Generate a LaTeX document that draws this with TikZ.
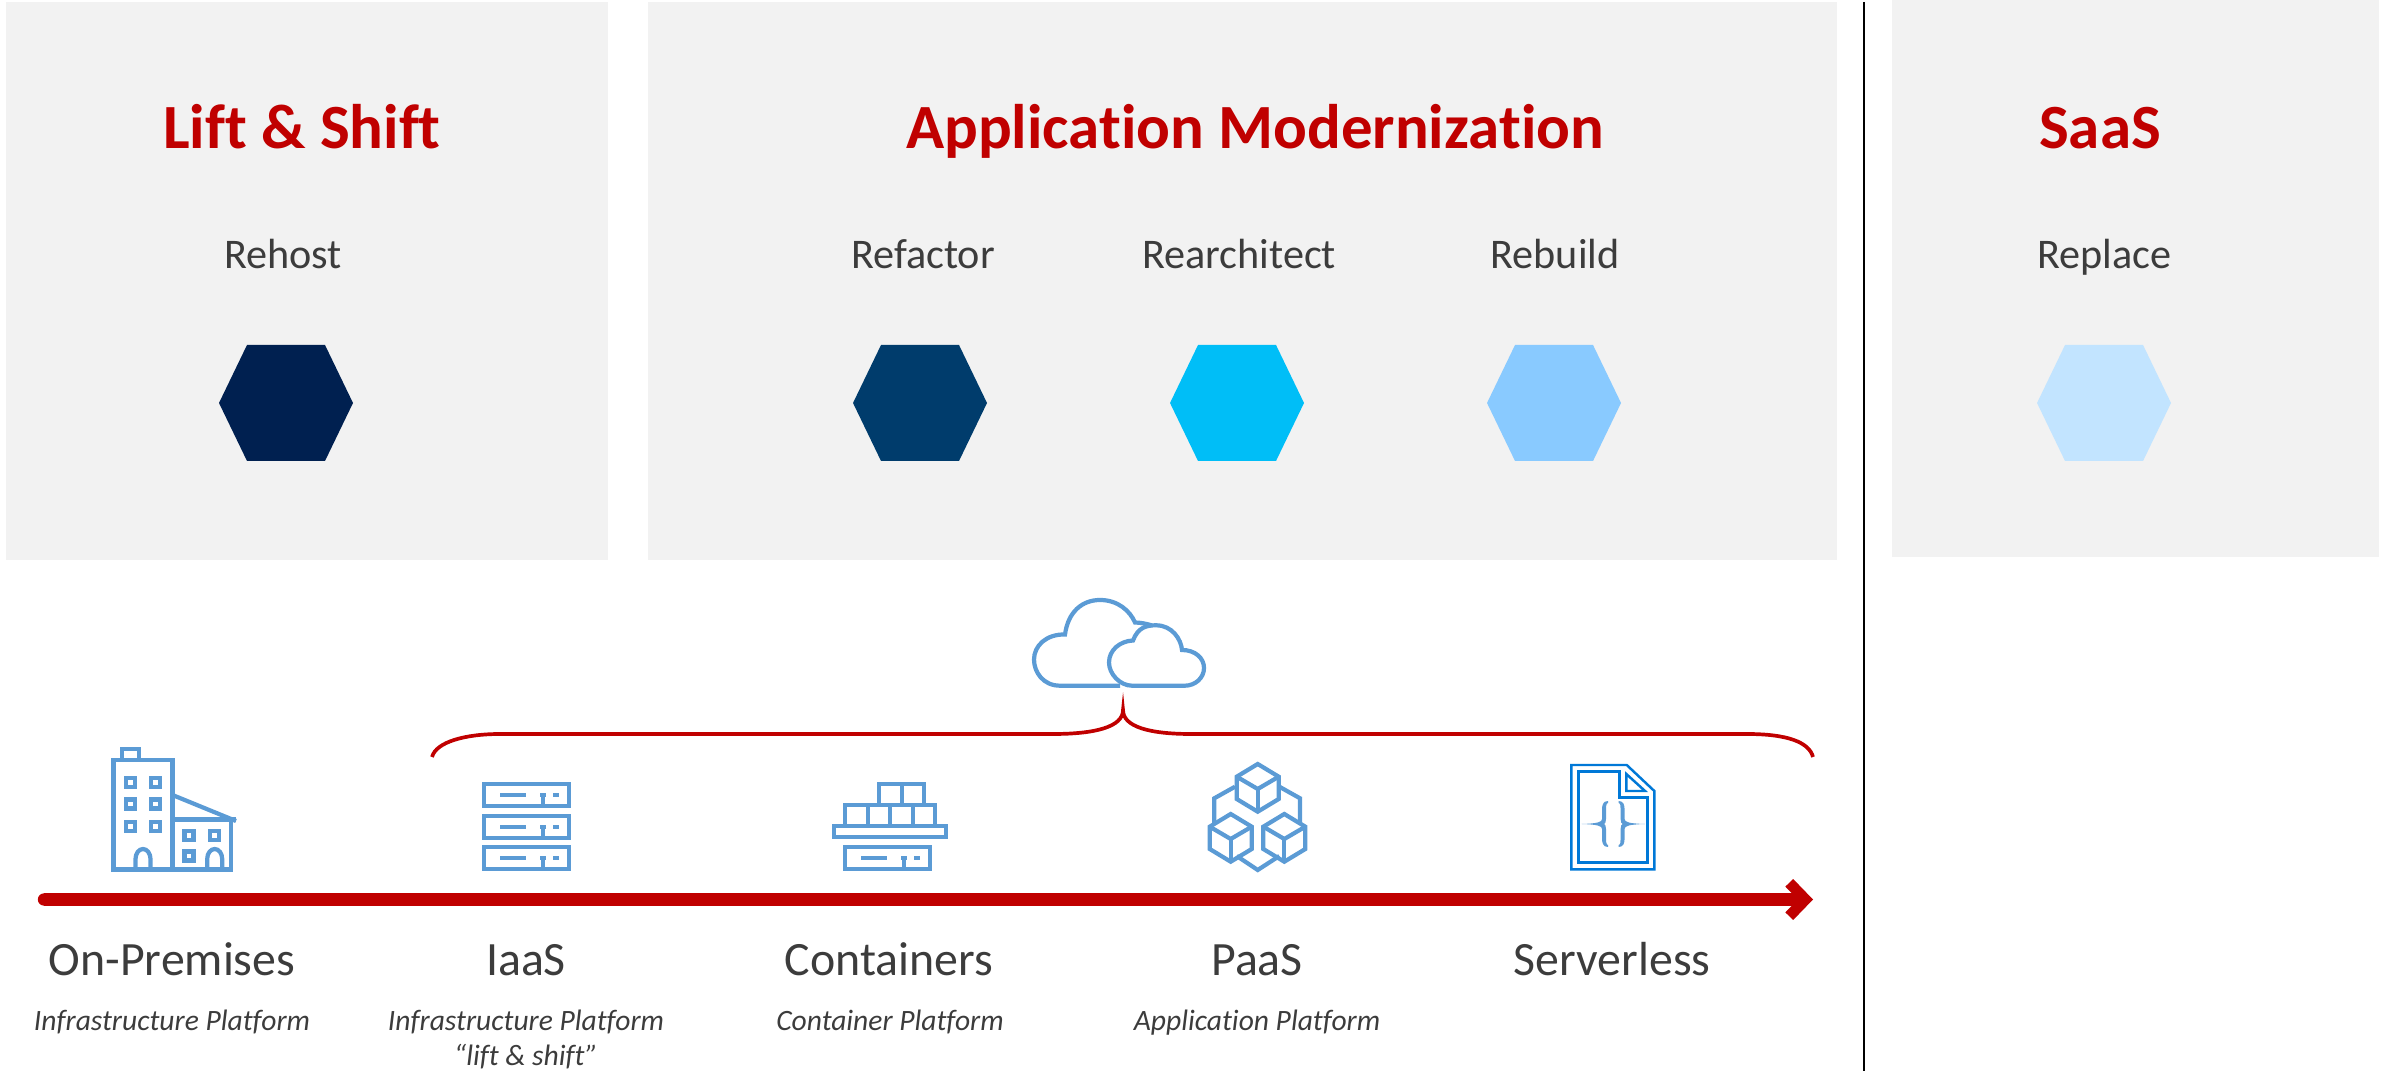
\documentclass[tikz,border=0pt]{standalone}
\usepackage{fontspec}
\setmainfont{Carlito}[RawFeature={-liga}]
\usetikzlibrary{arrows.meta}
\tikzset{
	panel/.style={fill={rgb,255:red,242;green,242;blue,242}},
	heading/.style={anchor=base,font=\fontsize{17.9pt}{20pt}\selectfont\bfseries,text={rgb,255:red,192;green,0;blue,0},inner sep=0pt},
	strategy/.style={anchor=base,font=\fontsize{12pt}{13pt}\selectfont,text={rgb,255:red,60;green,60;blue,60},inner sep=0pt},
	platform/.style={anchor=base,font=\fontsize{13.6pt}{15pt}\selectfont,text={rgb,255:red,60;green,60;blue,60},inner sep=0pt},
	platformnote/.style={anchor=base,font=\fontsize{8.4pt}{10pt}\selectfont\itshape,text={rgb,255:red,60;green,60;blue,60},inner sep=0pt},
	icon/.style={draw={rgb,255:red,91;green,155;blue,213},line width=1.2pt,fill=none,line join=miter},
	iconfill/.style={fill={rgb,255:red,91;green,155;blue,213}},
	docline/.style={draw={rgb,255:red,0;green,120;blue,215},line width=0.7pt},
	redline/.style={draw={rgb,255:red,192;green,0;blue,0}},
	srvslot/.pic={
		\draw[icon] (0,0) rectangle (84.7,22);
		\draw[icon] (16,11) -- (42,11);
		\fill[iconfill] (55.7,9) rectangle (62,13);
		\draw[icon] (58.7,11) -- (58.7,22);
		\fill[iconfill] (68.7,9) rectangle (75,13);
	},
	cube/.pic={
		\draw[icon] (0,0) -- (21,12.7) -- (21,35) -- (0,47.7) -- (-21,35) -- (-21,12.7) -- cycle;
		\draw[icon] (-21,12.7) -- (0,25) -- (21,12.7);
		\draw[icon] (0,25) -- (0,47.7);
	},
	winpane/.pic={
		\draw[icon] (-4.5,-4.5) rectangle (4.5,4.5);
	},
	archdoor/.pic={
		\draw[icon] (-7.5,0) -- (-7.5,-10.5) arc[start angle=180,end angle=0,x radius=7.5,y radius=-10] -- (7.5,0);
	},
	curly/.pic={
		\fill[iconfill] (-5.3,-23) .. controls (-10.3,-23) and (-11.3,-19) .. (-11.3,-14) -- (-11.3,-5) .. controls (-11.3,-2) and (-15.3,-0.5) .. (-31.6,0) .. controls (-15.3,0.5) and (-11.3,2) .. (-11.3,5) -- (-11.3,14) .. controls (-11.3,19) and (-10.3,23) .. (-5.3,23) -- (-5.3,21) .. controls (-7.3,21) and (-7.3,17) .. (-7.3,14) -- (-7.3,5) .. controls (-7.3,2) and (-8.3,0) .. (-9.3,0) .. controls (-8.3,0) and (-7.3,-2) .. (-7.3,-5) -- (-7.3,-14) .. controls (-7.3,-17) and (-7.3,-21) .. (-5.3,-21) -- cycle;
	}
}
\begin{document}
\begin{tikzpicture}[x=0.01cm,y=-0.01cm]
	\useasboundingbox (0,0) rectangle (2389,1071);
	% Panels
	\fill[panel] (6,2) rectangle (608,560);
	\fill[panel] (648,2) rectangle (1837,560);
	\fill[panel] (1892,0) rectangle (2379,557);
	\coordinate (dividertop) at (1864,2);
	\coordinate (dividerbottom) at (1864,1071);
	\draw[line width=0.55pt] (dividertop) -- (dividerbottom);
	% Hexagons
	\foreach \hx/\hr/\hg/\hb in {286/0/32/80,920/0/60/108,1237/0/190/247,1554/137/202/255,2104/194/228/255}
		\fill[fill={rgb,255:red,\hr;green,\hg;blue,\hb}] (\hx-67,403) -- (\hx-39,345) -- (\hx+39,345) -- (\hx+67,403) -- (\hx+39,461) -- (\hx-39,461) -- cycle;
	% Headings
	\draw (302,149) node[heading] (lift) {Lift \& Shift};
	\draw (1255,149) node[heading] (modern) {Application Modernization};
	\draw (2100,149) node[heading] (saas) {SaaS};
	\draw (283,268.5) node[strategy] (rehost) {Rehost};
	\draw (923,268.5) node[strategy] (refactor) {Refactor};
	\draw (1239,268.5) node[strategy] (rearchitect) {Rearchitect};
	\draw (1555,268.5) node[strategy] (rebuild) {Rebuild};
	\draw (2104,268.5) node[strategy] (replace) {Replace};
	% Brace and axis
	\draw[redline,line width=1.05pt] (432,757) .. controls (436,742) and (465,734) .. (500,734) -- (1053,734) .. controls (1095,734) and (1123,727) .. (1123,710) .. controls (1123,727) and (1150,734) .. (1191,734) -- (1747,734) .. controls (1787,734) and (1809,742) .. (1813,757);
	\coordinate (axisstart) at (44,899.5);
	\coordinate (axisend) at (1813,899.5);
	\draw[redline,line width=3.5pt,-{Straight Barb[length=4.6pt,width=9.5pt,line width=3.1pt]}] (axisstart) -- (axisend);
	\fill[fill={rgb,255:red,192;green,0;blue,0}] (44,899.5) circle (6.2);
	% Cloud
	\draw[icon] (1120,685.7) -- (1060,685.7) .. controls (1043,685.7) and (1034,672) .. (1034,659.5) .. controls (1034,646) and (1046,634) .. (1065,634.5) .. controls (1068,612) and (1082,600) .. (1100,600) .. controls (1118,600) and (1130,611) .. (1135,622.5) .. controls (1140,622.5) and (1148,624) .. (1152,625.5);
	\draw[icon] (1185,685.7) -- (1132,685.7) .. controls (1120,685.7) and (1109,674) .. (1109,662.5) .. controls (1109,650) and (1120,641) .. (1133,640.5) .. controls (1138,627) and (1147,625.3) .. (1156,625.3) .. controls (1172,625.3) and (1181,639) .. (1182,650) .. controls (1195,650) and (1204,658) .. (1204,668) .. controls (1204,678) and (1195,685.7) .. (1185,685.7) -- cycle;
	% Building
	\draw[icon] (113.5,760) rectangle (172.5,869.5);
	\draw[icon] (122,760) -- (122,749) -- (139,749) -- (139,760);
	\draw[icon] (172.5,819.5) rectangle (231,869.5);
	\draw[icon] (172.5,795) -- (236,821);
	\draw[icon] (172.5,819.5) -- (236,819.5);
	\foreach \wx in {130.7,155.7}
		\foreach \wy in {782.3,804,826.7}
			\pic at (\wx,\wy) {winpane};
	\pic at (189,835.7) {winpane};
	\pic at (214.3,835.7) {winpane};
	\pic at (189,856) {winpane};
	\pic at (143,869.5) {archdoor};
	\pic at (214.7,869.5) {archdoor};
	% Servers
	\foreach \sy in {784.3,815.7,847}
		\pic at (484,\sy) {srvslot};
	% Containers
	\pic at (845.3,847) {srvslot};
	\draw[icon] (834.3,826.3) rectangle (946.3,837);
	\draw[icon] (845.3,826.3) -- (845.3,804.7) -- (935,804.7) -- (935,826.3);
	\foreach \cx in {868,890,913}
		\draw[icon] (\cx,804.7) -- (\cx,826.3);
	\draw[icon] (879.3,804.7) -- (879.3,783.7) -- (923.7,783.7) -- (923.7,804.7);
	\draw[icon] (901.7,783.7) -- (901.7,804.7);
	% Cubes
	\draw[icon] (1235,786.7) -- (1214.3,798.3) -- (1214.3,823.3);
	\draw[icon] (1279.3,786.7) -- (1300,798.3) -- (1300,823.3);
	\draw[icon] (1236.7,856) -- (1257.7,870) -- (1279.3,856);
	\pic at (1257.7,764) {cube};
	\pic at (1230.7,814) {cube};
	\pic at (1284.3,814) {cube};
	% Document
	\draw[docline] (1571.3,765) -- (1626.7,765) -- (1654.3,791) -- (1654.3,869.3) -- (1571.3,869.3) -- cycle;
	\draw[docline] (1578.3,771.7) -- (1619.3,771.7) -- (1619.3,797.7) -- (1647.3,797.7) -- (1647.3,862.7) -- (1578.3,862.7) -- cycle;
	\draw[docline] (1626.3,774) -- (1626.3,791) -- (1645,791) -- cycle;
	\pic at (1613.3,824) {curly};
	\pic[xscale=-1] at (1613.3,824) {curly};
	% Labels
	\draw (172,975) node[platform] (onprem) {On-Premises};
	\draw (526,975) node[platform] (iaas) {IaaS};
	\draw (889,975) node[platform] (containers) {Containers};
	\draw (1257,975) node[platform] (paas) {PaaS};
	\draw (1612,975) node[platform] (serverless) {Serverless};
	\draw (172,1030.5) node[platformnote] (onpremnote) {Infrastructure Platform};
	\draw (526,1030.5) node[platformnote] (iaasnote) {Infrastructure Platform};
	\draw (526,1065) node[platformnote] (iaasquote) {“lift \& shift”};
	\draw (890,1030.5) node[platformnote] (containersnote) {Container Platform};
	\draw (1257,1030.5) node[platformnote] (paasnote) {Application Platform};
\end{tikzpicture}
\end{document}
